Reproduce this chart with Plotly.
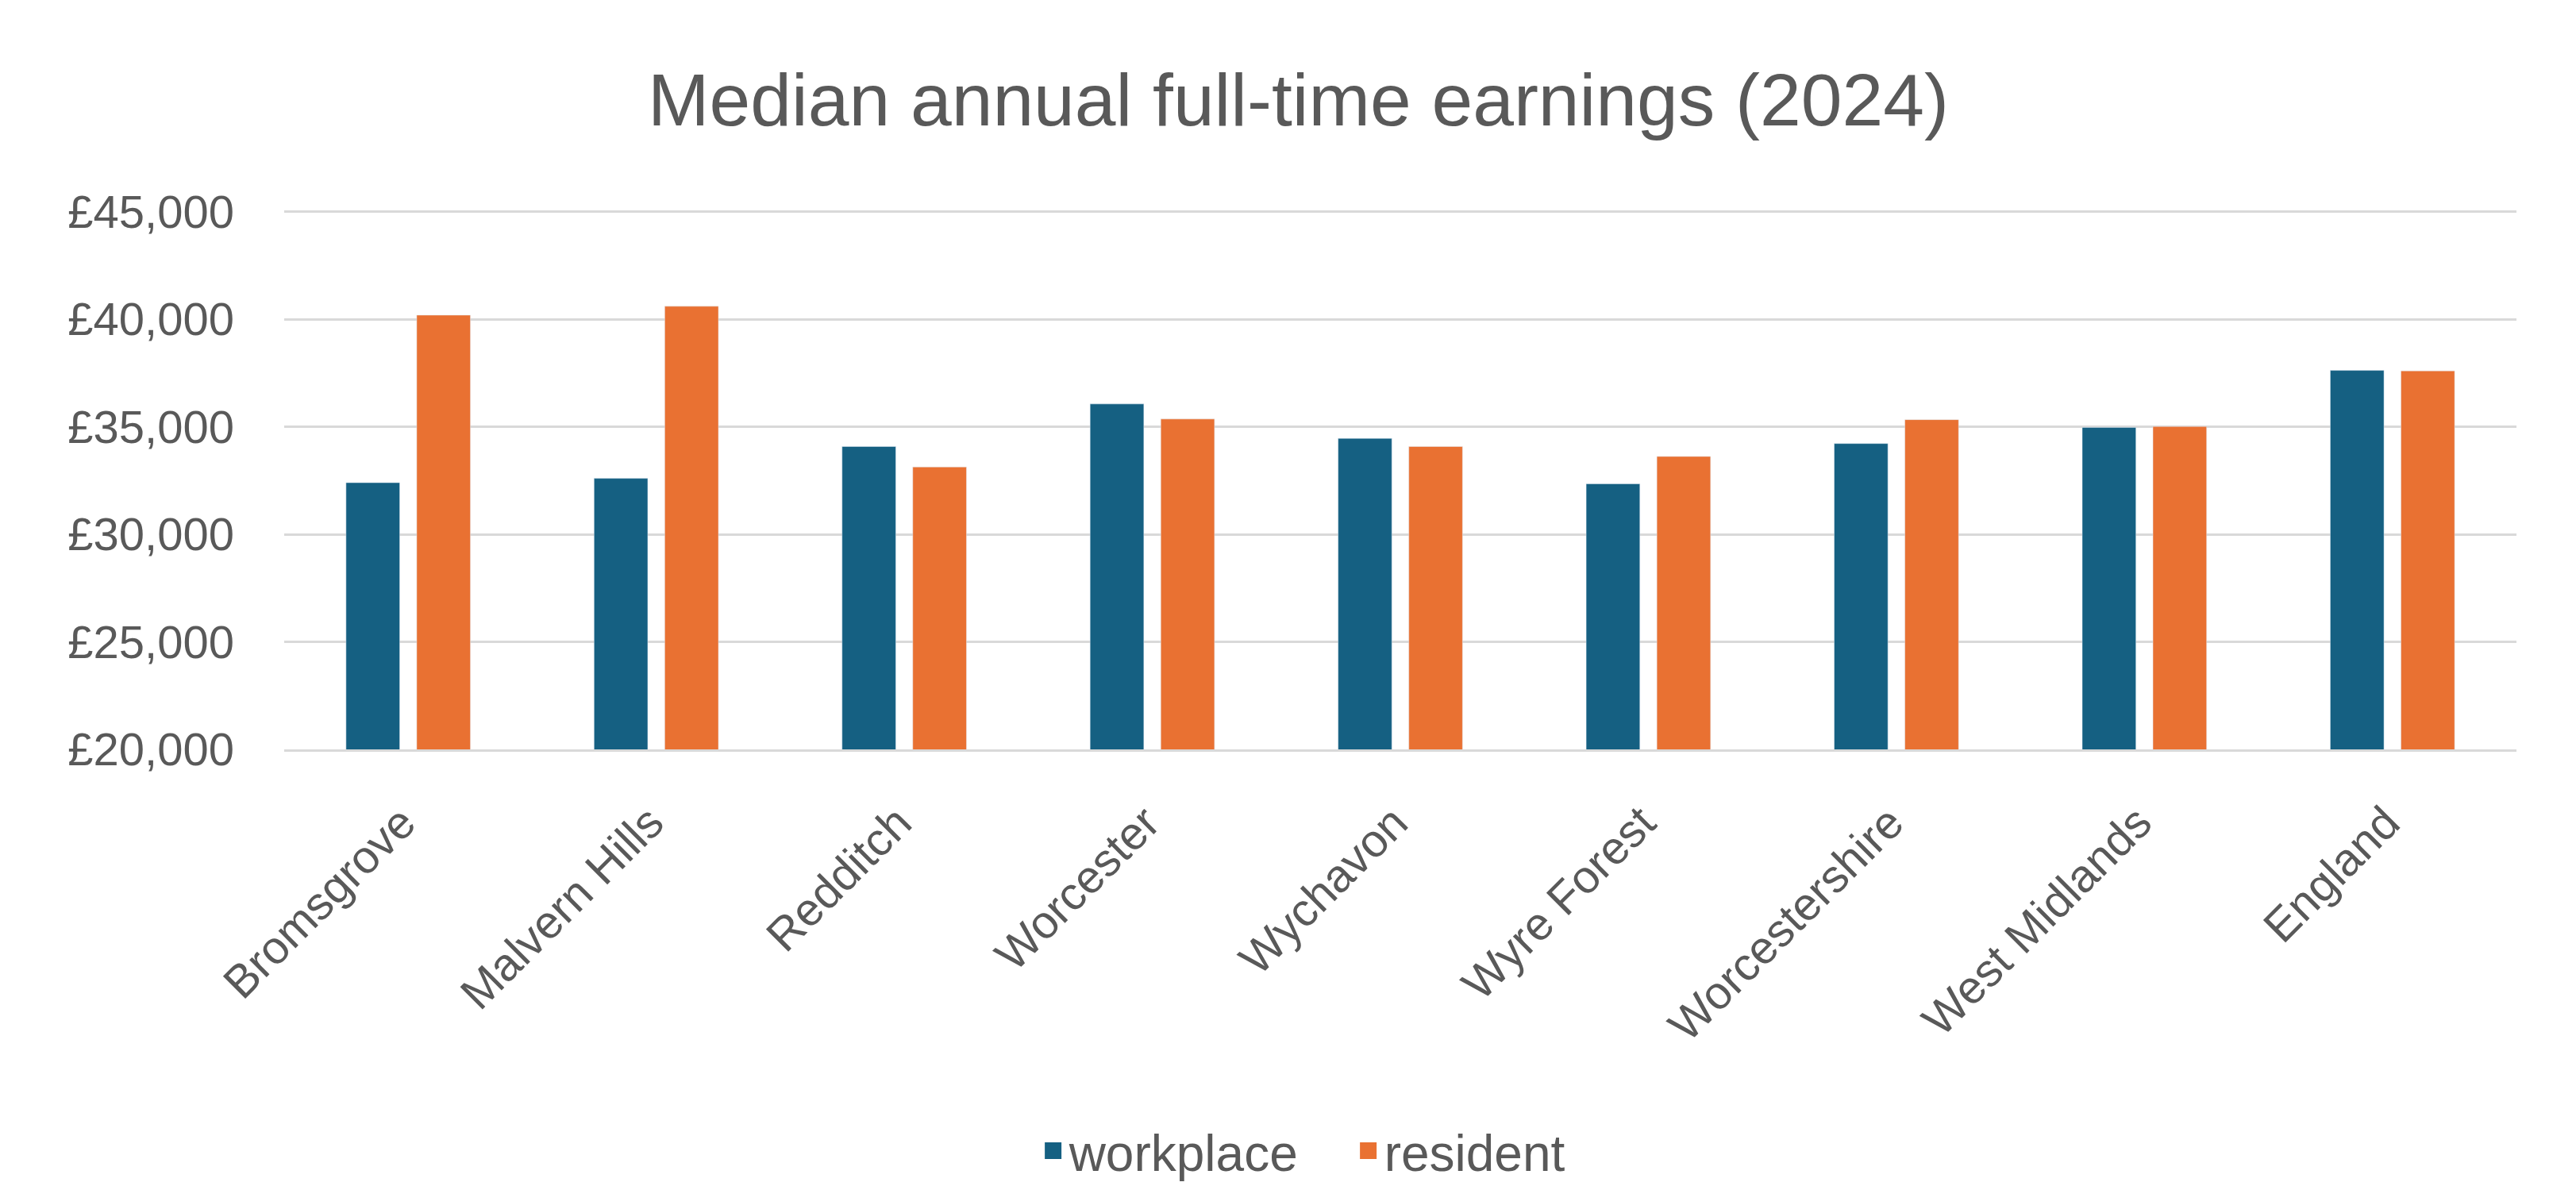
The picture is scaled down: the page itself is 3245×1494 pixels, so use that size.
import plotly.graph_objects as go

# Median annual full-time earnings by area, 2024
categories = [
    "Bromsgrove", "Malvern Hills", "Redditch", "Worcester", "Wychavon",
    "Wyre Forest", "Worcestershire", "West Midlands", "England",
]
workplace = [32400, 32600, 34080, 36060, 34460, 32350, 34220, 34970, 37620]
resident = [40190, 40600, 33130, 35360, 34080, 33620, 35330, 35010, 37600]

y_ticks = [20000, 25000, 30000, 35000, 40000, 45000]
y_tick_labels = ["£20,000", "£25,000", "£30,000", "£35,000", "£40,000", "£45,000"]

BLUE = "#156082"
ORANGE = "#E97132"
TEXT = "#595959"
GRID = "#D9D9D9"
FONT = "Liberation Sans, Arial, sans-serif"

fig = go.Figure()
fig.add_bar(name="workplace", x=categories, y=workplace,
            marker_color=BLUE, showlegend=False)
fig.add_bar(name="resident", x=categories, y=resident,
            marker_color=ORANGE, showlegend=False)

# legend entries with larger square swatches
for name, col in (("workplace", BLUE), ("resident", ORANGE)):
    fig.add_scatter(x=[None], y=[None], mode="markers", name=name,
                    marker=dict(symbol="square", size=16, color=col,
                                line=dict(color=col, width=5)))

fig.update_layout(
    width=3245, height=1494,
    margin=dict(l=358, r=75, t=265, b=550),
    paper_bgcolor="white", plot_bgcolor="white",
    font=dict(family=FONT, color=TEXT, size=58),
    title=dict(text="Median annual full-time earnings (2024)",
               font=dict(size=93, color=TEXT, family=FONT),
               x=0.504, xanchor="center", y=1 - 125 / 1494, yanchor="middle"),
    barmode="group", bargap=0.43, bargroupgap=0.24,
    legend=dict(orientation="h", xref="container", yref="container",
                x=0.525, xanchor="center", y=1 - 1450 / 1494, yanchor="middle",
                entrywidth=352, font=dict(size=64, color=TEXT)),
)
# top of range sits a little above £45,000 so its gridline is kept
fig.update_yaxes(range=[20000, 45060], tickvals=y_ticks, ticktext=y_tick_labels,
                 showgrid=True, gridcolor=GRID, gridwidth=3,
                 zeroline=False, showline=False, ticks="", ticklabelstandoff=62)
fig.update_xaxes(tickangle=-45, showline=True, linecolor=GRID, linewidth=3,
                 ticks="", showgrid=False, ticklabelstandoff=32,
                 ticklabelshift=-8)

fig.write_html("out.html")
